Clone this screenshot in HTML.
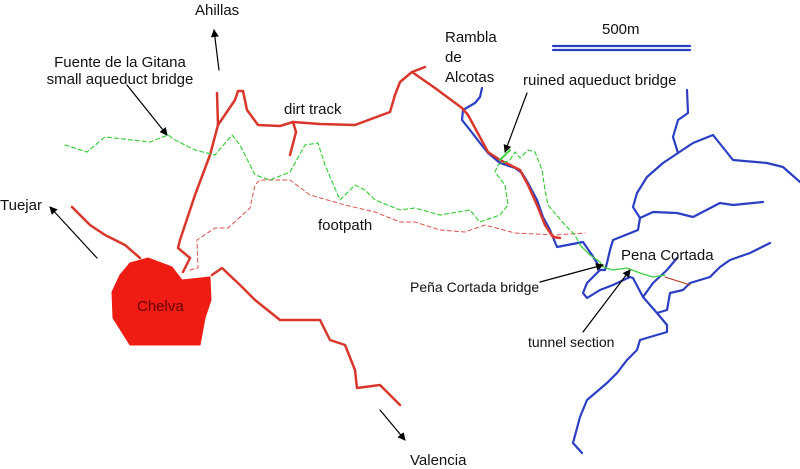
<!DOCTYPE html>
<html><head><meta charset="utf-8"><style>
html,body{margin:0;padding:0;background:#fff;}
svg{display:block;font-family:"Liberation Sans",sans-serif;}
</style></head><body>
<svg width="800" height="469" viewBox="0 0 800 469" xmlns="http://www.w3.org/2000/svg">
<defs><marker id="a" markerWidth="8" markerHeight="8" refX="7" refY="4" orient="auto" markerUnits="userSpaceOnUse"><path d="M0,0 L8,4 L0,8 z" fill="#000"/></marker></defs>
<g fill="none" stroke-linejoin="round" stroke-linecap="round">
<!-- blue rivers -->
<g stroke="#2b3fc4" stroke-width="2.2">
<polyline points="482,88 480,97 475,103 463,110 462,120 470,130 480,143 488,153 500,163 515,168 522,173 528,183 537,200 543,217 550,230 557,247 583,242 592,255 597,263 600,270 605,270 607,263 610,250 613,240 638,230 640,218 633,207 637,193 647,177 663,163 678,153 673,137 678,120 688,113 687,90"/>
<polyline points="678,153 693,143 713,135 733,160 767,163 783,167 800,182"/>
<polyline points="640,218 653,212 677,213 693,217 720,203 733,205 763,202"/>
<polyline points="600,270 587,283 583,293 587,298 600,290 613,285 630,277 633,278 643,297 657,313 667,325 667,332 650,337 640,340 637,350 627,360 617,373 607,383 587,400 580,417 573,443 582,453"/>
<polyline points="643,297 653,283 667,270 677,258"/>
<polyline points="657,313 667,310 670,293 683,290 690,283 710,277 720,267 730,260 750,253 770,243"/>
<line x1="553" y1="46" x2="690" y2="46"/><line x1="553" y1="50" x2="690" y2="50"/>
</g>
<!-- red roads -->
<g stroke="#d9372b" stroke-width="2.5">
<polyline points="217,93 218,125 210,155 195,195 180,240 178,248 190,258 183,272"/>
<polyline points="218,125 235,100 238,91 243,91 247,110 258,125 280,126 293,122 320,124 355,125 390,112 395,95 400,82 412,72 425,67"/>
<polyline points="293,122 296,132 290,155"/>
<polyline points="412,72 435,88 462,108 468,115 488,152 500,160 520,170 528,185 537,205 545,225 553,237 560,238"/>
<polyline points="72,207 90,225 105,235 125,245 140,258"/>
<polyline points="212,275 222,268 240,285 255,300 280,320 320,320 330,340 345,345 355,370 357,388 380,385 400,405"/>
</g>
<polygon points="130,263 148,258 172,267 182,280 210,277 211,300 205,318 200,345 130,345 113,318 112,292 120,275" fill="#ee1c12" stroke="#ee1c12"/>
<polyline points="665,277 690,285" stroke="#b03020" stroke-width="1"/>
<!-- footpaths -->
<polyline stroke="#d9534a" stroke-width="1" stroke-dasharray="4,3" points="190,270 198,268 197,240 215,228 228,228 250,208 255,185 260,180 290,180 310,195 345,205 375,212 400,222 415,222 440,230 465,232 485,225 515,233 555,235 585,233"/>
<polyline stroke="#3fcf3f" stroke-width="1.2" stroke-dasharray="4,3" points="65,145 87,152 105,137 150,142 168,135 175,140 195,150 215,155 232,135 240,145 255,175 270,180 290,172 305,145 318,143 325,165 340,200 355,185 365,190 375,200 400,210 415,208 440,215 470,210 480,222 500,215 508,205 505,185 495,172 498,165 510,160 515,152 520,158 528,150 535,152 542,170 545,190 548,205 565,225 575,235 580,245"/>
<polyline stroke="#3fcf3f" stroke-width="1.3" points="580,245 590,255 600,262 603,267 613,270 627,268 640,273 653,277 665,275"/>
<line x1="500" y1="160" x2="510" y2="150" stroke="#3fcf3f" stroke-width="2"/>
<!-- arrows -->
<g stroke="#000" stroke-width="1.2" marker-end="url(#a)">
<line x1="219" y1="70" x2="214" y2="30"/>
<line x1="127" y1="85" x2="167" y2="135"/>
<line x1="97" y1="258" x2="50" y2="207"/>
<line x1="380" y1="410" x2="405" y2="440"/>
<line x1="527" y1="93" x2="505" y2="152"/>
<line x1="540" y1="282" x2="603" y2="265"/>
<line x1="583" y1="332" x2="630" y2="270"/>
</g>
</g>
<g font-size="15" fill="#111">
<text x="195" y="15">Ahillas</text>
<text x="120" y="67" text-anchor="middle">Fuente de la Gitana</text>
<text x="120" y="84" text-anchor="middle">small aqueduct bridge</text>
<text x="284" y="114">dirt track</text>
<text x="0" y="210">Tuejar</text>
<text x="318" y="230">footpath</text>
<text x="137" y="311" fill="#6a0000">Chelva</text>
<text x="445" y="42">Rambla</text>
<text x="445" y="62">de</text>
<text x="445" y="82">Alcotas</text>
<text x="602" y="34">500m</text>
<text x="523" y="85">ruined aqueduct bridge</text>
<text x="621" y="260">Pena Cortada</text>
<text x="410" y="292" font-size="14">Peña Cortada bridge</text>
<text x="528" y="347" font-size="14">tunnel section</text>
<text x="410" y="465">Valencia</text>
</g>
</svg>
</body></html>
